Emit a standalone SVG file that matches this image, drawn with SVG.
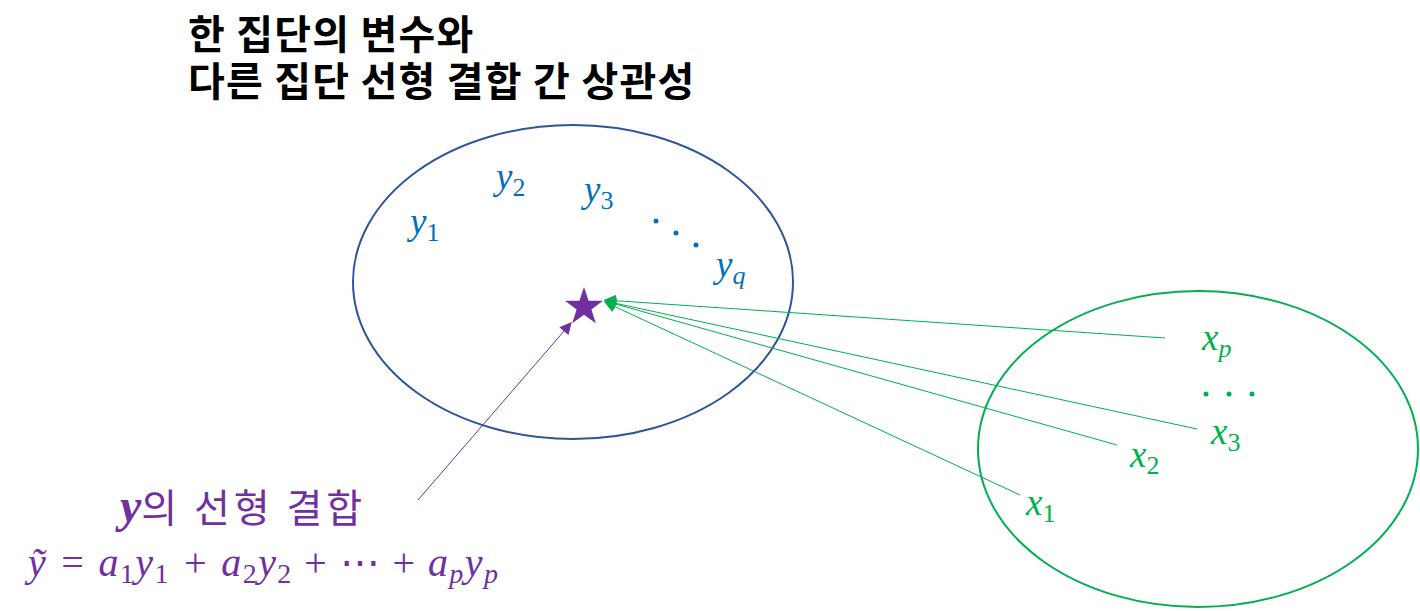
<svg xmlns="http://www.w3.org/2000/svg" width="1420" height="611" viewBox="0 0 1420 611">
<style>
.title{font-family:"Noto Sans CJK KR","Noto Sans",sans-serif;font-weight:bold;font-size:40px;letter-spacing:1.2px;fill:#000}
.m{font-family:"Liberation Serif","DejaVu Serif",serif;font-style:italic;font-size:37px}
.sub{font-style:normal;font-size:26px}
.isub{font-size:26px}
.blue{fill:#0070C0}
.green{fill:#00B050}
.purple{fill:#7030A0}
.kr{font-family:"Noto Sans CJK KR",sans-serif;font-style:normal}
</style>
<defs>
<marker id="ag" viewBox="0 0 10 10" refX="9" refY="5" markerWidth="14" markerHeight="12" markerUnits="userSpaceOnUse" orient="auto"><path d="M0,0 L10,5 L0,10 z" fill="#00B050"/></marker>
<marker id="ap" viewBox="0 0 10 10" refX="9" refY="5" markerWidth="14" markerHeight="12" markerUnits="userSpaceOnUse" orient="auto"><path d="M0,0 L10,5 L0,10 z" fill="#7030A0"/></marker>
</defs>
<g id="title">
<text class="title" x="188" y="49">한 집단의 변수와</text>
<text class="title" x="188" y="96">다른 집단 선형 결합 간 상관성</text>
</g>
<g id="y-group">
<ellipse cx="573" cy="282" rx="220" ry="157" fill="none" stroke="#2F5597" stroke-width="2"/>
<text class="m blue" x="410" y="234">y<tspan class="sub" dy="7">1</tspan></text>
<text class="m blue" x="496" y="189">y<tspan class="sub" dy="7">2</tspan></text>
<text class="m blue" x="584" y="202">y<tspan class="sub" dy="7">3</tspan></text>
<circle cx="656" cy="221" r="2.5" fill="#0070C0"/>
<circle cx="676" cy="233" r="2.5" fill="#0070C0"/>
<circle cx="696" cy="245" r="2.5" fill="#0070C0"/>
<text class="m blue" x="716" y="277">y<tspan class="isub" dy="7">q</tspan></text>
</g>
<g id="x-group">
<ellipse cx="1198" cy="449" rx="220" ry="158" fill="none" stroke="#00B050" stroke-width="2"/>
<text class="m green" x="1202" y="350">x<tspan class="isub" dy="7">p</tspan></text>
<circle cx="1206" cy="394" r="2.5" fill="#00B050"/>
<circle cx="1229" cy="394" r="2.5" fill="#00B050"/>
<circle cx="1252" cy="394" r="2.5" fill="#00B050"/>
<text class="m green" x="1211" y="444">x<tspan class="sub" dy="7">3</tspan></text>
<text class="m green" x="1130" y="467">x<tspan class="sub" dy="7">2</tspan></text>
<text class="m green" x="1026" y="515">x<tspan class="sub" dy="7">1</tspan></text>
</g>
<g id="star">
<polygon fill="#7030A0" points="584,287 588.6,300.7 603,300.8 591.4,309.4 595.8,323.2 584,314.8 572.2,323.2 576.6,309.4 565,300.8 579.4,300.7"/>
</g>
<g id="label">
<text x="120" y="522" class="purple"><tspan style="font-family:'Liberation Serif',serif;font-style:italic;font-weight:bold;font-size:48px">y</tspan><tspan class="kr" style="font-size:39px;letter-spacing:4px">의 선형 결합</tspan></text>
<text class="m purple" x="28" y="576" style="font-size:40px" textLength="470" lengthAdjust="spacing">ỹ = a<tspan class="sub" dy="7" style="font-size:28px">1</tspan><tspan dy="-7">y</tspan><tspan class="sub" dy="7" style="font-size:28px">1</tspan><tspan dy="-7"> + a</tspan><tspan class="sub" dy="7" style="font-size:28px">2</tspan><tspan dy="-7">y</tspan><tspan class="sub" dy="7" style="font-size:28px">2</tspan><tspan dy="-7" style="font-style:normal"> + ⋯ + </tspan><tspan dy="0">a</tspan><tspan class="isub" dy="7" style="font-size:28px">p</tspan><tspan dy="-7">y</tspan><tspan class="isub" dy="7" style="font-size:28px">p</tspan></text>
</g>
<g id="connectors" fill="none" stroke-width="1">
<line x1="1165" y1="338" x2="605" y2="300" stroke="#00B050" marker-end="url(#ag)"/>
<line x1="1197" y1="429" x2="605" y2="301" stroke="#00B050" marker-end="url(#ag)"/>
<line x1="1117" y1="445" x2="605" y2="301" stroke="#00B050" marker-end="url(#ag)"/>
<line x1="1020" y1="495" x2="605" y2="302" stroke="#00B050" marker-end="url(#ag)"/>
<line x1="418" y1="500" x2="571" y2="323" stroke="#7030A0" marker-end="url(#ap)"/>
</g>
</svg>
